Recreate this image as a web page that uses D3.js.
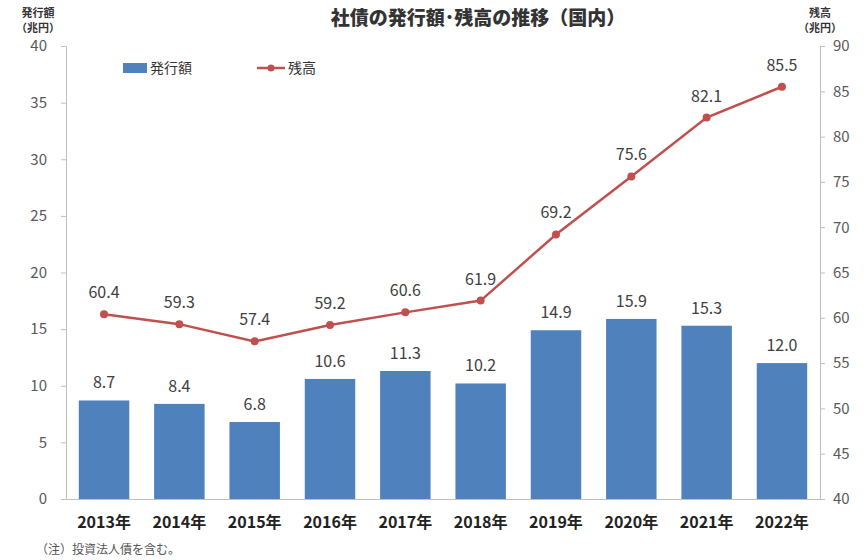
<!DOCTYPE html>
<html><head><meta charset="utf-8">
<script src="https://cdn.jsdelivr.net/npm/d3@7"></script>
<style>body{margin:0;background:#fff;font-family:"Noto Sans CJK JP","Noto Sans",sans-serif}</style>
</head><body><div id="chart"></div>
<script>
const years = ["2013年","2014年","2015年","2016年","2017年","2018年","2019年","2020年","2021年","2022年"];
const issuance = [8.7,8.4,6.8,10.6,11.3,10.2,14.9,15.9,15.3,12.0];
const balance = [60.4,59.3,57.4,59.2,60.6,61.9,69.2,75.6,82.1,85.5];
const leftTicks = [0,5,10,15,20,25,30,35,40];
const rightTicks = [40,45,50,55,60,65,70,75,80,85,90];

const W = 867, H = 560;
const m = {left: 66, right: 47, top: 46, bottom: 61};
const svg = d3.select("#chart").append("svg").attr("width", W).attr("height", H);
const font = "'Noto Sans CJK JP', sans-serif";

const x = d3.scaleBand().domain(years).range([m.left, W - m.right]).paddingInner(0.33).paddingOuter(0.17);
const yL = d3.scaleLinear().domain([0, 40]).range([H - m.bottom, m.top]);
const yR = d3.scaleLinear().domain([40, 90]).range([H - m.bottom, m.top]);

const axL = svg.append("g").attr("transform", `translate(${m.left},0)`)
  .call(d3.axisLeft(yL).tickValues(leftTicks).tickSize(5).tickPadding(14));
const axR = svg.append("g").attr("transform", `translate(${W - m.right},0)`)
  .call(d3.axisRight(yR).tickValues(rightTicks).tickSize(5).tickPadding(8));
const axB = svg.append("g").attr("transform", `translate(0,${H - m.bottom})`)
  .call(d3.axisBottom(x).tickSize(0).tickPadding(18));
[axL, axR, axB].forEach(a => {
  a.selectAll("path,line").attr("stroke", "#bfbfbf");
  a.selectAll("text").attr("fill", "#595959").style("font-family", font).style("font-size", "15px");
});
axB.selectAll("text").attr("fill", "#222").style("font-weight", "bold").style("font-size", "16px");

svg.append("g").selectAll("rect").data(issuance).join("rect")
  .attr("x", (d, i) => x(years[i])).attr("width", x.bandwidth())
  .attr("y", d => yL(d)).attr("height", d => yL(0) - yL(d)).attr("fill", "#4f81bd");
svg.append("g").selectAll("text").data(issuance).join("text")
  .attr("x", (d, i) => x(years[i]) + x.bandwidth() / 2).attr("y", d => yL(d) - 12)
  .attr("text-anchor", "middle").attr("fill", "#404040").style("font-size", "16px").style("font-family", font)
  .text(d => d.toFixed(1));

const cx = (d, i) => x(years[i]) + x.bandwidth() / 2;
svg.append("path").datum(balance)
  .attr("d", d3.line().x(cx).y(d => yR(d)))
  .attr("fill", "none").attr("stroke", "#c0504d").attr("stroke-width", 2.5);
svg.append("g").selectAll("circle").data(balance).join("circle")
  .attr("cx", cx).attr("cy", d => yR(d)).attr("r", 4).attr("fill", "#c0504d");
svg.append("g").selectAll("text").data(balance).join("text")
  .attr("x", cx).attr("y", d => yR(d) - 16)
  .attr("text-anchor", "middle").attr("fill", "#404040").style("font-size", "16px").style("font-family", font)
  .text(d => d.toFixed(1));

svg.append("text").attr("x", 478).attr("y", 25).attr("text-anchor", "middle")
  .style("font-size", "19px").style("font-weight", "900").style("font-family", font).attr("fill", "#333")
  .text("社債の発行額･残高の推移（国内）");
function axisTitle(xp, lines) {
  lines.forEach((t, i) => svg.append("text").attr("x", xp).attr("y", 17 + i * 15).attr("text-anchor", "middle")
    .style("font-size", "11px").style("font-weight", "bold").style("font-family", font).attr("fill", "#333").text(t));
}
axisTitle(38, ["発行額", "（兆円）"]);
axisTitle(820, ["残高", "（兆円）"]);

svg.append("rect").attr("x", 123).attr("y", 63).attr("width", 24).attr("height", 10).attr("fill", "#4f81bd");
svg.append("text").attr("x", 150).attr("y", 73).style("font-size", "14px").style("font-family", font).attr("fill", "#333").text("発行額");
svg.append("line").attr("x1", 257).attr("x2", 285).attr("y1", 68).attr("y2", 68).attr("stroke", "#c0504d").attr("stroke-width", 2.5);
svg.append("circle").attr("cx", 271).attr("cy", 68).attr("r", 3.5).attr("fill", "#c0504d");
svg.append("text").attr("x", 288).attr("y", 73).style("font-size", "14px").style("font-family", font).attr("fill", "#333").text("残高");

svg.append("text").attr("x", 36).attr("y", 554).style("font-size", "12px").style("font-family", font).attr("fill", "#555")
  .text("（注）投資法人債を含む。");
</script></body></html>
